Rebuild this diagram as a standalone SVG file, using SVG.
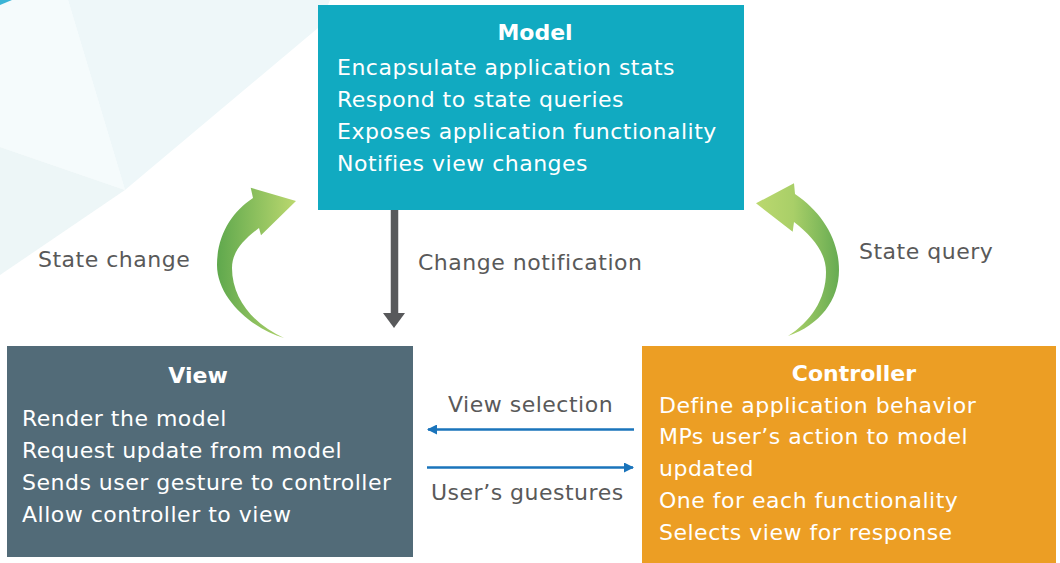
<svg xmlns="http://www.w3.org/2000/svg" width="1060" height="563" viewBox="0 0 1060 563">
<defs>
<style>
.t{font-family:"DejaVu Sans","Liberation Sans",sans-serif;font-size:22px;letter-spacing:0.5px;fill:#fff}
.b{font-family:"DejaVu Sans","Liberation Sans",sans-serif;font-size:22px;font-weight:bold;fill:#fff;text-anchor:middle}
.l{font-family:"DejaVu Sans","Liberation Sans",sans-serif;font-size:22px;letter-spacing:0.5px;fill:#595959}
.blue{stroke:#1a74bb;stroke-width:2.5;fill:none}
</style>
<linearGradient id="gL" gradientUnits="userSpaceOnUse" x1="217" y1="0" x2="296" y2="0">
<stop offset="0" stop-color="#5fa84d"/><stop offset="1" stop-color="#bbd86f"/>
</linearGradient>
<linearGradient id="gR" gradientUnits="userSpaceOnUse" x1="756" y1="0" x2="839" y2="0">
<stop offset="0" stop-color="#bbd86f"/><stop offset="0.45" stop-color="#a9cf68"/><stop offset="1" stop-color="#66ab52"/>
</linearGradient>
<marker id="bh" markerWidth="10" markerHeight="10" refX="9" refY="5" orient="auto" markerUnits="userSpaceOnUse">
<path d="M0,0 L10,5 L0,10 Z" fill="#1a74bb"/>
</marker>
</defs>
<rect width="1060" height="563" fill="#fff"/>
<g id="background">
<polygon points="0,0 68,0 125,190 0,147" fill="#f5fbfc"/>
<polygon points="68,0 330,0 318,28 125,190" fill="#eef7f9"/>
<polygon points="0,147 125,190 0,275" fill="#edf6f7"/>
<polygon points="0,0 12,0 0,5" fill="#3ab4d6"/>
</g>
<g id="connectors">
<path d="M394.5,210 V316" stroke="#58595b" stroke-width="7.5" fill="none"/>
<path d="M383,313 L405,313 L394,328 Z" fill="#58595b"/>
<path class="blue" d="M634,429.5 H428" marker-end="url(#bh)"/>
<path class="blue" d="M427,467.5 H633" marker-end="url(#bh)"/>
<path d="M284,338 C255,330 217,300 217,265 C217,235 232,212 253,198 L250.7,187.7 L296,201 L261,235.3 L259,228 C243,240 232,252 232,268 C232,300 255,325 284,338 Z" fill="url(#gL)"/>
<path d="M788,336 C820,325 839,300 839,270 C839,240 822,212 795,194 L794,183.3 L756,203.3 L792.7,231.7 L794,222 C812,236 826,252 826,272 C826,300 810,322 788,336 Z" fill="url(#gR)"/>
<text class="l" x="38" y="267">State change</text>
<text class="l" x="418" y="270">Change notification</text>
<text class="l" x="859" y="259">State query</text>
<text class="l" x="448" y="412">View selection</text>
<text class="l" x="431" y="500">User’s guestures</text>
</g>
<g id="model">
<rect x="318" y="5" width="426" height="205" fill="#11aac1"/>
<text class="b" x="535" y="40">Model</text>
<text class="t" x="337" y="75">Encapsulate application stats</text>
<text class="t" x="337" y="107">Respond to state queries</text>
<text class="t" x="337" y="139">Exposes application functionality</text>
<text class="t" x="337" y="171">Notifies view changes</text>
</g>
<g id="view">
<rect x="7" y="346" width="406" height="211" fill="#526b78"/>
<text class="b" x="198" y="383">View</text>
<text class="t" x="22" y="426">Render the model</text>
<text class="t" x="22" y="458">Request update from model</text>
<text class="t" x="22" y="490">Sends user gesture to controller</text>
<text class="t" x="22" y="522">Allow controller to view</text>
</g>
<g id="controller">
<rect x="642" y="346" width="414" height="217" fill="#ec9e24"/>
<text class="b" x="854" y="381">Controller</text>
<text class="t" x="659" y="413">Define application behavior</text>
<text class="t" x="659" y="444">MPs user’s action to model</text>
<text class="t" x="659" y="476">updated</text>
<text class="t" x="659" y="508">One for each functionality</text>
<text class="t" x="659" y="540">Selects view for response</text>
</g>
</svg>
